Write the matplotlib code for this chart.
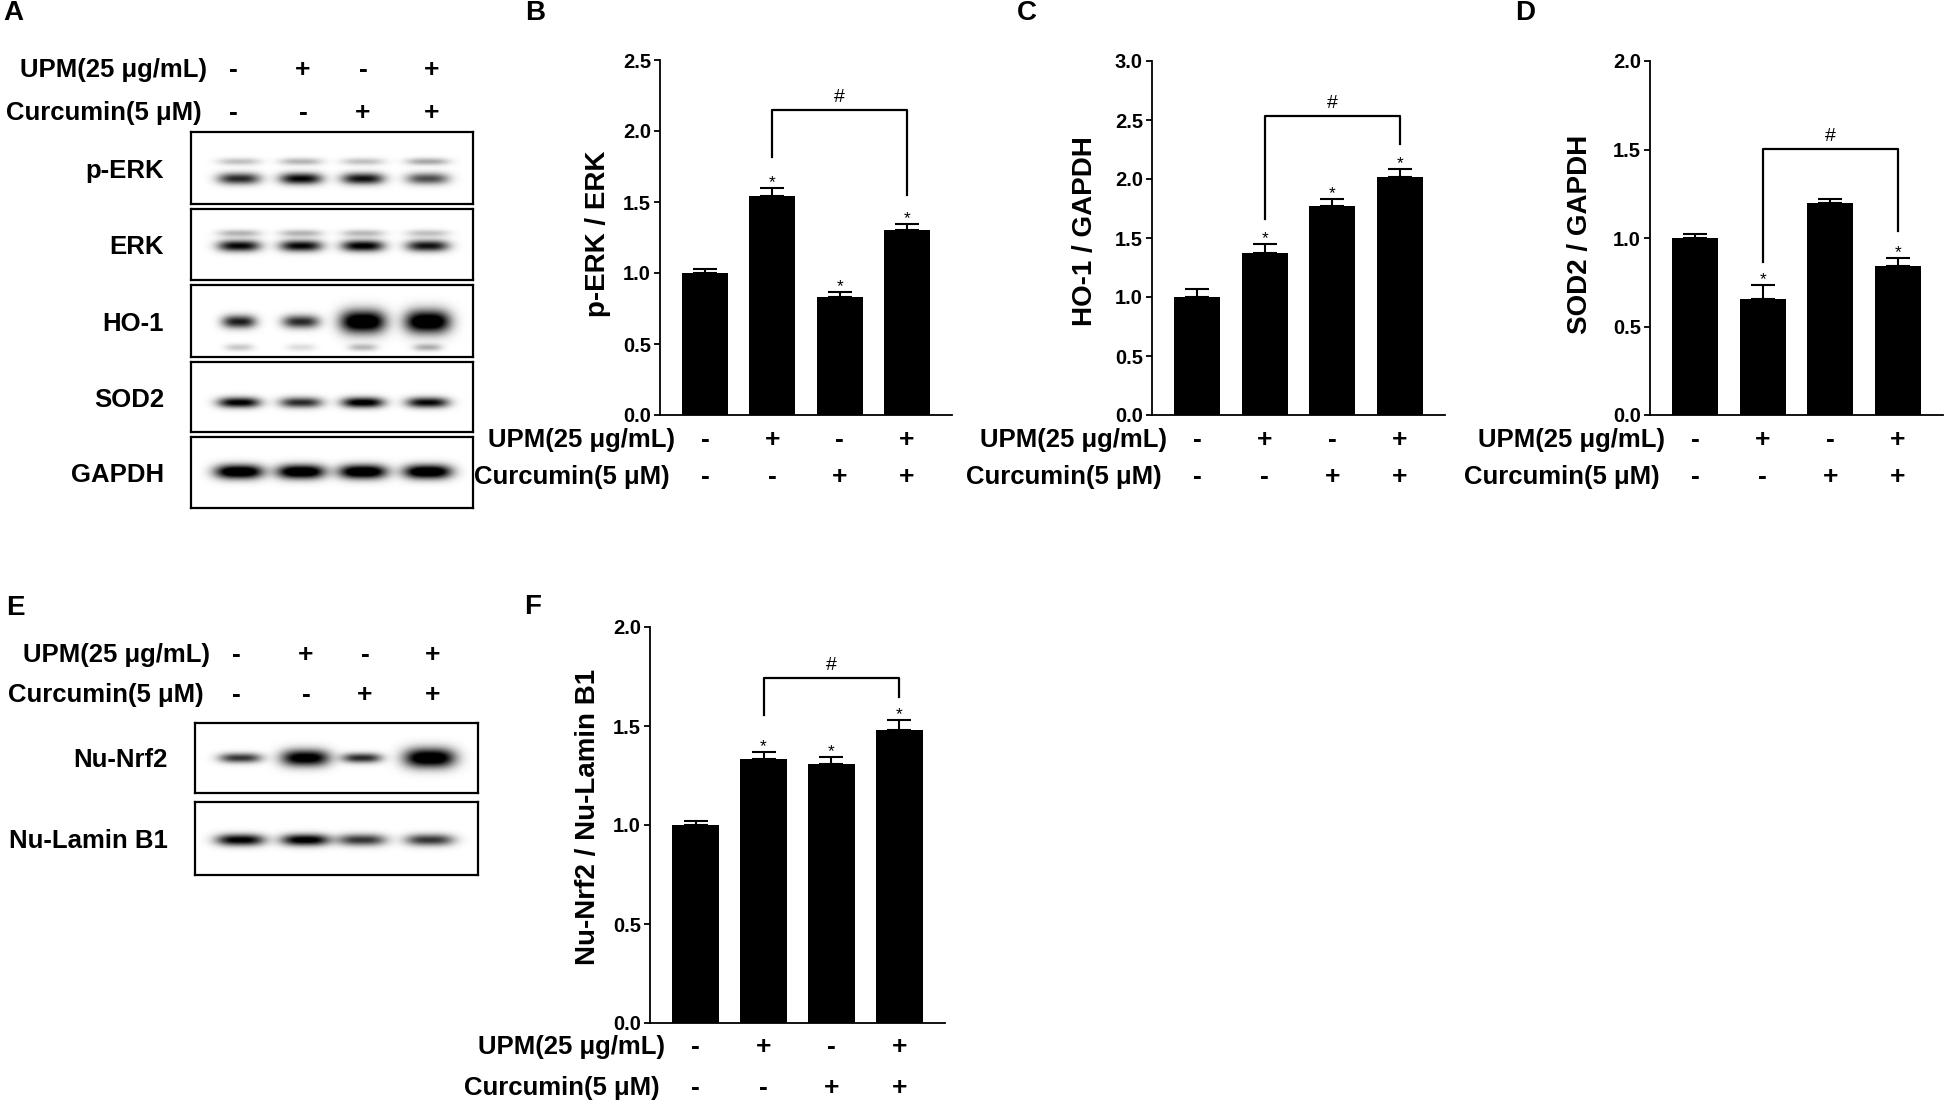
import numpy as np
import matplotlib
matplotlib.use("Agg")
import matplotlib.pyplot as plt

plt.rcParams['font.family'] = ['Liberation Sans', 'DejaVu Sans']
plt.rcParams['font.weight'] = 'bold'

W, H = 1946, 1105
DPI = 100

# --- bar chart data (mean, SEM) ---
upm_signs = [False, True, False, True]
cur_signs = [False, False, True, True]

perk_mean = [1.00, 1.545, 0.833, 1.30]
perk_err = [0.025, 0.055, 0.035, 0.043]
perk_star = [False, True, True, True]

ho1_mean = [1.00, 1.37, 1.77, 2.02]
ho1_err = [0.07, 0.08, 0.06, 0.065]
ho1_star = [False, True, True, True]

sod2_mean = [1.00, 0.655, 1.20, 0.842]
sod2_err = [0.025, 0.08, 0.02, 0.043]
sod2_star = [False, True, False, True]

nrf2_mean = [1.00, 1.333, 1.31, 1.478]
nrf2_err = [0.02, 0.036, 0.033, 0.054]
nrf2_star = [False, True, True, True]

# bracket: (left bar, right bar, top, left leg end, right leg end)
perk_bracket = (1, 3, 2.148, 1.82, 1.55)
ho1_bracket = (1, 3, 2.53, 1.66, 2.30)
sod2_bracket = (1, 3, 1.503, 0.866, 1.04)
nrf2_bracket = (1, 3, 1.742, 1.557, 1.646)

# --- western blot band intensities per lane ---
blot_a_names = ["p-ERK", "ERK", "HO-1", "SOD2", "GAPDH"]
perk_band = [0.85, 1.0, 0.95, 0.7]
perk_faint = [0.25, 0.3, 0.25, 0.35]
erk_band = [1.0, 1.0, 1.05, 0.95]
erk_faint = [0.3, 0.3, 0.28, 0.25]
ho1_band = [0.9, 0.85, 1.3, 1.3]
ho1_faint = [0.22, 0.14, 0.28, 0.32]
sod2_band = [1.05, 0.85, 1.1, 1.0]
gapdh_band = [1.3, 1.3, 1.3, 1.3]

blot_e_names = ["Nu-Nrf2", "Nu-Lamin B1"]
nrf2_band = [0.8, 1.15, 0.85, 1.25]
lamin_band = [1.05, 1.1, 0.8, 0.8]

fig = plt.figure(figsize=(W / DPI, H / DPI), dpi=DPI)

LABEL_FS = 18.5
SIGN_FS = 19


def px_axes(x0, y0, x1, y1):
    return fig.add_axes([x0 / W, 1 - y1 / H, (x1 - x0) / W, (y1 - y0) / H])


def ftext(x, y, s, **kw):
    fig.text(x / W, 1 - y / H, s, **kw)


def make_blot(x0, y0, x1, y1, lanes, bands):
    # bands: list of (y centre, thickness list, amps list, half-width list)
    ax = px_axes(x0, y0, x1, y1)
    nx, ny = 400, 100
    xx, yy = np.meshgrid(np.linspace(0, 1, nx), np.linspace(0, 1, ny))
    img = np.zeros_like(xx)
    for yc, sy, amps, wx in bands:
        for i, xc in enumerate(lanes):
            img += amps[i] * np.exp(-(np.abs(xx - xc) / wx[i]) ** 3) \
                * np.exp(-((yy - yc) / sy[i]) ** 2)
    ax.imshow(np.clip(img, 0, 1), cmap='gray_r', vmin=0, vmax=1,
              aspect='auto', extent=(0, 1, 1, 0), interpolation='bilinear')
    ax.set_xticks([])
    ax.set_yticks([])
    for s in ax.spines.values():
        s.set_linewidth(1.6)
    return ax


def header(xs, y_upm, y_cur, rx_upm, rx_cur):
    ftext(rx_upm, y_upm, "UPM(25 μg/mL)", ha='right', va='center', fontsize=LABEL_FS, fontweight='bold')
    ftext(rx_cur, y_cur, "Curcumin(5 μM)", ha='right', va='center', fontsize=LABEL_FS, fontweight='bold')
    for x, u, c in zip(xs, upm_signs, cur_signs):
        ftext(x, y_upm, '+' if u else '-', ha='center', va='center', fontsize=SIGN_FS, fontweight='bold')
        ftext(x, y_cur, '+' if c else '-', ha='center', va='center', fontsize=SIGN_FS, fontweight='bold')


def bar_panel(box, ymax, means, errs, stars, bracket, ylabel, ylab_x, ylab_y, row_dy):
    ax = px_axes(*box)
    x = np.arange(len(means))
    ax.bar(x, means, width=0.68, color='black', zorder=2)
    ax.errorbar(x, means, yerr=[np.zeros(len(errs)), errs], fmt='none', ecolor='black',
                elinewidth=1.5, capsize=8.3, capthick=1.5, zorder=1)
    for i, (m, e, s) in enumerate(zip(means, errs, stars)):
        if s:
            ax.annotate('*', xy=(i, m + e), xytext=(0, 1), textcoords='offset pixels',
                        ha='center', va='baseline', fontsize=12.5, fontweight='normal')
    i0, i1, top, l0, l1 = bracket
    ax.plot([i0, i0, i1, i1], [l0, top, top, l1], color='black', lw=1.6, clip_on=False)
    ax.annotate('#', xy=((i0 + i1) / 2, top), xytext=(0, 8), textcoords='offset pixels',
                ha='center', va='baseline', fontsize=14, fontweight='normal')
    ax.set_xlim(-0.67, 3.67)
    ax.set_ylim(0, ymax)
    ax.set_yticks(np.arange(0, ymax + 0.01, 0.5))
    ax.set_yticklabels([f"{v:.1f}" for v in np.arange(0, ymax + 0.01, 0.5)])
    ax.set_xticks([])
    ax.spines['top'].set_visible(False)
    ax.spines['right'].set_visible(False)
    ax.spines['left'].set_linewidth(1.3)
    ax.spines['bottom'].set_linewidth(1.3)
    ax.tick_params(axis='y', length=4.5, width=1.3, labelsize=14.5, pad=2)
    for t in ax.get_yticklabels():
        t.set_fontweight('bold')
    ax.text(ylab_x, ylab_y, ylabel, transform=ax.transAxes, rotation=90,
            ha='center', va='center', fontsize=20, fontweight='bold')
    # treatment rows under the bars
    dy1, dy2 = row_dy
    for i, (u, c) in enumerate(zip(upm_signs, cur_signs)):
        ax.annotate('+' if u else '-', xy=(i, 0), xycoords=('data', 'axes fraction'),
                    xytext=(0, -dy1), textcoords='offset pixels', ha='center', va='center',
                    fontsize=SIGN_FS, fontweight='bold', annotation_clip=False)
        ax.annotate('+' if c else '-', xy=(i, 0), xycoords=('data', 'axes fraction'),
                    xytext=(0, -dy2), textcoords='offset pixels', ha='center', va='center',
                    fontsize=SIGN_FS, fontweight='bold', annotation_clip=False)
    ax.annotate("UPM(25 μg/mL)", xy=(0, 0), xycoords='axes fraction', xytext=(15, -dy1),
                textcoords='offset pixels', ha='right', va='center', fontsize=LABEL_FS,
                fontweight='bold', annotation_clip=False)
    ax.annotate("Curcumin(5 μM)", xy=(0, 0), xycoords='axes fraction', xytext=(10, -dy2),
                textcoords='offset pixels', ha='right', va='center', fontsize=LABEL_FS,
                fontweight='bold', annotation_clip=False)
    return ax


# ---------------- Panel A ----------------
lanes_a = [0.17, 0.39, 0.61, 0.84]
wide = [0.075] * 4
header([233, 303, 363, 432], 70, 113, 207, 202)
rows_a = [(132, 204), (209, 280), (285, 357), (362, 432), (437, 508)]
bands_a = [
    [(0.65, [0.08] * 4, perk_band, wide), (0.41, [0.05] * 4, perk_faint, wide)],
    [(0.52, [0.08] * 4, erk_band, wide), (0.34, [0.05] * 4, erk_faint, wide)],
    [(0.51, [0.09, 0.09, 0.16, 0.16], ho1_band, [0.06, 0.065, 0.08, 0.08]),
     (0.87, [0.05] * 4, ho1_faint, [0.05] * 4)],
    [(0.58, [0.075] * 4, sod2_band, wide)],
    [(0.49, [0.1] * 4, gapdh_band, [0.085] * 4)],
]
for name, (y0, y1), bands in zip(blot_a_names, rows_a, bands_a):
    make_blot(191, y0, 473, y1, lanes_a, bands)
    ftext(164, (y0 + y1) / 2 + 3, name, ha='right', va='center', fontsize=LABEL_FS, fontweight='bold')

# ---------------- Panel E ----------------
lanes_e = [0.16, 0.39, 0.59, 0.83]
header([236, 306, 365, 433], 655, 695, 210, 204)
rows_e = [(723, 793), (802, 875)]
bands_e = [
    [(0.5, [0.07, 0.12, 0.07, 0.14], nrf2_band, [0.075, 0.085, 0.07, 0.09])],
    [(0.52, [0.08] * 4, lamin_band, [0.085] * 4)],
]
for name, (y0, y1), bands in zip(blot_e_names, rows_e, bands_e):
    make_blot(195, y0, 478, y1, lanes_e, bands)
    ftext(168, (y0 + y1) / 2 + 2, name, ha='right', va='center', fontsize=LABEL_FS, fontweight='bold')

# ---------------- Bar panels ----------------
bar_panel((660, 60, 952, 415), 2.5, perk_mean, perk_err, perk_star, perk_bracket,
          "p-ERK / ERK", -0.212, 0.51, (25, 62))
bar_panel((1152, 61, 1445, 415), 3.0, ho1_mean, ho1_err, ho1_star, ho1_bracket,
          "HO-1 / GAPDH", -0.229, 0.52, (25, 62))
bar_panel((1650, 61, 1943, 415), 2.0, sod2_mean, sod2_err, sod2_star, sod2_bracket,
          "SOD2 / GAPDH", -0.239, 0.51, (25, 62))
bar_panel((650, 627, 945, 1023), 2.0, nrf2_mean, nrf2_err, nrf2_star, nrf2_bracket,
          "Nu-Nrf2 / Nu-Lamin B1", -0.21, 0.52, (24, 65))

# panel letters
for letter, x, y in [("A", 13, 13), ("B", 535, 13), ("C", 1027, 13), ("D", 1525, 13),
                     ("E", 15, 608), ("F", 533, 607)]:
    ftext(x, y, letter, ha='center', va='center', fontsize=20, fontweight='bold')

fig.savefig("out.png", dpi=DPI)
